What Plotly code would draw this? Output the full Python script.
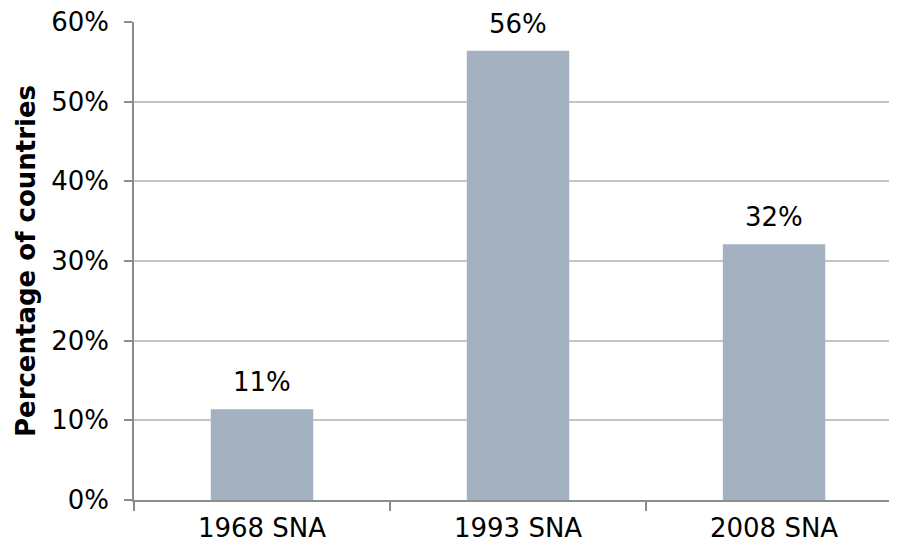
import plotly.graph_objects as go

categories = ["1968 SNA", "1993 SNA", "2008 SNA"]
values = [11.4, 56.4, 32.1]
labels = ["11%", "56%", "32%"]
y_ticks = [0, 10, 20, 30, 40, 50, 60]
y_tick_text = ["0%", "10%", "20%", "30%", "40%", "50%", "60%"]

FONT = "DejaVu Sans, Verdana, sans-serif"
FS = 26

fig = go.Figure(
    go.Bar(
        x=categories,
        y=values,
        width=0.4,
        marker=dict(color="#A3B1C0", line=dict(width=0)),
        hoverinfo="skip",
    )
)

for c, v, t in zip(categories, values, labels):
    fig.add_annotation(
        x=c, y=v, text=t, showarrow=False,
        yanchor="middle", xanchor="center", yshift=27,
        font=dict(family=FONT, size=FS, color="black"),
    )

fig.update_layout(
    width=881,
    height=534,
    margin=dict(l=126, r=0, t=14, b=42),
    paper_bgcolor="white",
    plot_bgcolor="white",
    font=dict(family=FONT, size=FS, color="black"),
    showlegend=False,
)

fig.update_xaxes(
    range=[-0.5, 2.449],
    automargin=False,
    showgrid=False,
    showline=True,
    linecolor="#8C8C8C",
    linewidth=1.5,
    ticks="outside",
    tickson="boundaries",
    ticklen=9,
    tickcolor="#8C8C8C",
    tickwidth=1.5,
    tickfont=dict(family=FONT, size=FS, color="black"),
    ticklabelstandoff=4,
    ticklabeloverflow="allow",
)

fig.update_yaxes(
    range=[0, 60],
    automargin=False,
    tickvals=y_ticks,
    ticktext=y_tick_text,
    showgrid=True,
    gridcolor="#C4C4C4",
    gridwidth=1.5,
    zeroline=False,
    showline=True,
    linecolor="#8C8C8C",
    linewidth=1.5,
    ticks="outside",
    ticklen=8,
    tickcolor="#8C8C8C",
    tickwidth=1.5,
    tickfont=dict(family=FONT, size=FS, color="black"),
    ticklabelstandoff=10,
    ticklabeloverflow="allow",
    title=dict(
        text="<b>Percentage of countries</b>",
        font=dict(family=FONT, size=FS, color="black"),
        standoff=8,
    ),
)

fig.write_html("out.html")
